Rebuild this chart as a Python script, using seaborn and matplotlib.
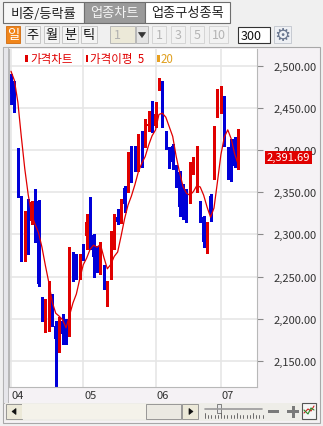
import numpy as np
import pandas as pd
import seaborn as sns
import matplotlib
matplotlib.use("Agg")
import matplotlib.pyplot as plt
from matplotlib.patches import Rectangle, Polygon
from matplotlib.transforms import blended_transform_factory

W, H = 323, 427

# daily candles, April -> early July
opens = [2486.9, 2481.0, 2383.6, 2342.0, 2294.5, 2336.0, 2315.9, 2351.6, 2339.7, 2219.7,
         2185.3, 2220.9, 2226.9, 2191.2, 2161.5, 2197.2, 2196.0, 2190.0, 2273.2, 2270.8,
         2258.9, 2276.7, 2298.1, 2338.5, 2299.3, 2282.7, 2270.8, 2262.5, 2219.7, 2253.0,
         2296.9, 2320.7, 2314.7, 2355.1, 2351.6, 2377.7, 2391.9, 2383.6, 2419.2, 2407.4,
         2428.7, 2446.6, 2428.7, 2472.7, 2481.0, 2421.6, 2401.4, 2405.0, 2381.2, 2374.1,
         2357.5, 2351.6, 2338.5, 2377.7, 2351.6, 2321.9, 2320.7, 2279.1, 2345.6, 2368.2,
         2440.6, 2445.4, 2463.2, 2399.0, 2380.0, 2413.3, 2383.6]
highs = [2490.5, 2482.2, 2402.6, 2345.6, 2327.8, 2342.0, 2339.7, 2353.9, 2340.9, 2225.7,
         2223.3, 2244.7, 2229.2, 2197.2, 2201.9, 2205.5, 2199.5, 2285.0, 2279.1, 2276.7,
         2276.7, 2288.6, 2324.2, 2344.4, 2300.5, 2286.2, 2291.0, 2263.7, 2244.7, 2304.1,
         2324.2, 2330.2, 2342.0, 2357.5, 2397.9, 2405.0, 2405.0, 2419.2, 2422.8, 2437.1,
         2446.6, 2458.4, 2457.2, 2485.7, 2482.2, 2422.8, 2403.8, 2407.4, 2382.4, 2375.3,
         2359.9, 2353.9, 2386.0, 2391.9, 2405.0, 2339.7, 2321.9, 2314.7, 2348.0, 2428.7,
         2472.7, 2476.2, 2464.4, 2403.8, 2413.3, 2415.7, 2425.2]
lows = [2454.9, 2445.4, 2344.4, 2268.4, 2268.4, 2276.7, 2312.4, 2291.0, 2238.7, 2197.2,
        2184.1, 2185.3, 2191.2, 2120.0, 2160.3, 2169.9, 2169.9, 2179.3, 2244.7, 2247.0,
        2247.0, 2269.6, 2282.7, 2282.7, 2249.4, 2255.4, 2253.0, 2235.2, 2215.0, 2247.0,
        2282.7, 2312.4, 2313.6, 2326.6, 2350.4, 2362.2, 2375.3, 2375.3, 2380.0, 2403.8,
        2422.8, 2421.6, 2427.6, 2471.5, 2427.6, 2401.4, 2378.9, 2377.7, 2356.3, 2321.9,
        2318.3, 2314.7, 2337.3, 2371.7, 2350.4, 2314.7, 2285.0, 2277.9, 2315.9, 2365.8,
        2439.4, 2444.2, 2405.0, 2365.8, 2363.4, 2380.0, 2377.7]
closes = [2466.7, 2457.2, 2375.3, 2291.0, 2300.5, 2312.0, 2338.5, 2318.3, 2241.1, 2213.8,
          2203.1, 2237.5, 2202.0, 2175.8, 2196.0, 2181.7, 2190.0, 2274.4, 2250.6, 2249.4,
          2273.2, 2272.0, 2314.7, 2302.9, 2273.2, 2261.3, 2288.6, 2237.5, 2235.2, 2299.3,
          2308.8, 2314.7, 2332.5, 2336.1, 2381.2, 2363.4, 2381.2, 2408.6, 2387.2, 2421.6,
          2431.1, 2437.1, 2443.0, 2479.8, 2428.7, 2407.4, 2380.0, 2386.0, 2362.2, 2332.5,
          2324.2, 2339.7, 2374.1, 2383.6, 2368.2, 2315.9, 2291.0, 2302.9, 2324.2, 2422.8,
          2470.3, 2452.5, 2407.4, 2368.2, 2369.4, 2381.2, 2391.69]
# closes of the days just before the window (feed the 5-day average)
prev_closes = [2512, 2505, 2495, 2490]

month_pos = [0, 21, 42, 61]
month_labels = ["04", "05", "06", "07"]
y_ticks = [2150, 2200, 2250, 2300, 2350, 2400, 2450, 2500]
tabs = ["비중/등락률", "업종차트", "업종구성종목"]
periods = ["일", "주", "월", "분", "틱"]
counts = ["1", "3", "5", "10"]

sns.set_style("white")
plt.rcParams['font.family'] = ['Noto Sans CJK KR', 'DejaVu Sans']

RED = '#e00000'
BLUE = '#0000d8'

df = pd.DataFrame({"open": opens, "high": highs, "low": lows, "close": closes})
df["x"] = np.arange(len(df))
allc = pd.Series(prev_closes + closes)
df["ma5"] = allc.rolling(5).mean().iloc[len(prev_closes):].values

fig = plt.figure(figsize=(W / 100, H / 100), dpi=100, facecolor='#f0f0f0')

# background / widgets layer in pixel coords
bg = fig.add_axes([0, 0, 1, 1], zorder=0)
bg.set_xlim(0, W)
bg.set_ylim(H, 0)
bg.axis('off')


def box(a, x0, y0, x1, y1, fc, ec='none', lw=1, **kw):
    a.add_patch(Rectangle((x0, y0), x1 - x0, y1 - y0, fc=fc, ec=ec, lw=lw, **kw))


# tabs
tab_box = [(3, 84), (84, 145), (145, 230)]
for (x0, x1), t, i in zip(tab_box, tabs, range(3)):
    active = i == 1
    box(bg, x0, 3, x1, 24, '#9a9a9a' if active else ('#f7f7f7' if i == 0 else '#ffffff'),
        ec='#6e6e6e', lw=0.8)
    bg.text((x0 + x1) / 2, 14, t, ha='center', va='center', fontsize=9.5,
            color='#f4f4f4' if active else '#222222')

# period buttons
pbox = [(6, 20), (25, 40), (44, 59), (62, 78), (81, 97)]
for (x0, x1), t, i in zip(pbox, periods, range(5)):
    if i == 0:
        box(bg, x0, 27, x1, 44, '#f0851a', ec='#d06a10', lw=0.6)
        bg.text((x0 + x1) / 2, 35.5, t, ha='center', va='center', fontsize=9.5, color='white')
    else:
        box(bg, x0, 27, x1, 44, '#f4f4f4', ec='#c0c0c0', lw=0.6)
        bg.text((x0 + x1) / 2, 35.5, t, ha='center', va='center', fontsize=9.5, color='#111111')

# disabled combo
box(bg, 110, 27, 135, 44, '#ece9d8', ec='#b0b0b0', lw=0.6)
bg.text(114, 35.5, "1", ha='left', va='center', fontsize=9, color='#b0b0b0')
box(bg, 136, 27, 148, 44, '#e4e4e4', ec='#b0b0b0', lw=0.6)
bg.add_patch(Polygon([(138.5, 33.5), (145.5, 33.5), (142, 38.5)], closed=True,
                     fc='#333333', ec='#333333', lw=0.5))
cbox = [(152, 166), (171, 185), (190, 204), (209, 228)]
for (x0, x1), t in zip(cbox, counts):
    box(bg, x0, 27, x1, 44, '#f2f2f2', ec='#d0d0d0', lw=0.6)
    bg.text((x0 + x1) / 2, 35.5, t, ha='center', va='center', fontsize=9, color='#b4b4b4')
box(bg, 238, 28, 270, 44, '#ffffff', ec='#333333', lw=0.8)
bg.text(241, 36, "300", ha='left', va='center', fontsize=9, color='#111111')
box(bg, 274, 27, 291, 44, '#eef0f4', ec='#c0c4cc', lw=0.6)
bg.text(282.5, 36, "⚙", ha='center', va='center', fontsize=13, color='#6b7890',
        family='DejaVu Sans')

# chart container
box(bg, 3, 48, 320, 424, '#f5f2f5', ec='#a8a8a8', lw=0.8)
box(bg, 3, 48, 8, 404, '#e6e6ea', ec='#b0b0b0', lw=0.6)

# bottom scroll row
box(bg, 5, 404, 318, 422, '#eeede8')
box(bg, 6, 405, 22, 420, '#ece9d8', ec='#8a8a8a', lw=0.6)
bg.add_patch(Polygon([(16, 409.5), (16, 415.5), (12, 412.5)], closed=True,
                     fc='#111111', ec='#111111', lw=0.5))
box(bg, 22, 405, 146, 420, '#f4f2ea', ec='none', hatch='.....')
box(bg, 146, 405, 181, 420, '#ebe9e2', ec='#8a8a8a', lw=0.6)
box(bg, 182, 405, 198, 420, '#ece9d8', ec='#8a8a8a', lw=0.6)
bg.add_patch(Polygon([(189, 409.5), (189, 415.5), (193, 412.5)], closed=True,
                     fc='#111111', ec='#111111', lw=0.5))
bg.plot([205, 262], [409.5, 409.5], color='#9a9a9a', lw=1.2)
box(bg, 217, 405, 221, 414, '#e8e8e8', ec='#707070', lw=0.6)
for k, xx in enumerate(np.arange(205, 264, 3.2)):
    bg.plot([xx, xx], [419, 416 if k % 5 else 414], color='#555555', lw=0.6)
box(bg, 268, 411, 279, 414, '#7a7a7a')
box(bg, 287, 411, 299, 414, '#7a7a7a')
box(bg, 291.5, 406.5, 294.5, 418.5, '#7a7a7a')
box(bg, 302, 404, 316, 420, '#f6f6f6', ec='#555555', lw=0.8)
bg.plot([304, 308, 311, 314], [414, 410, 412, 407], color='#d02020', lw=0.8)
bg.plot([304, 308, 311, 314], [411, 415, 409, 411], color='#2a8a2a', lw=0.8)

# price chart
ax = fig.add_axes([9 / W, 1 - 388 / H, 248 / W, 338 / H], zorder=2)
ax.set_facecolor('white')
ax.set_xlim(-0.58, 71.5)
ax.set_ylim(2118.8, 2520.2)

for v in y_ticks:
    ax.axhline(v, color='#e6e6e6', lw=1.2, zorder=0)
for p in month_pos:
    ax.axvline(p, color='#e6e6e6', lw=1.2, zorder=0)

up = df["close"] >= df["open"]
cols = np.where(up, RED, BLUE)
ax.vlines(df["x"], df["low"], df["high"], colors=cols, lw=0.9, zorder=2, antialiased=False)
body_lo = np.minimum(df["open"], df["close"])
body_h = np.maximum(np.abs(df["close"] - df["open"]), 1.3)
ax.bar(df["x"], body_h, bottom=body_lo, width=0.72, color=cols, lw=0, zorder=3,
       antialiased=False)

sns.lineplot(data=df, x="x", y="ma5", ax=ax, color=RED, lw=0.9, zorder=4)
ax.set_xlabel("")
ax.set_ylabel("")

for s in ["top"]:
    ax.spines[s].set_visible(False)
for s in ["left", "bottom", "right"]:
    ax.spines[s].set_color('#b8b8b8')
    ax.spines[s].set_linewidth(0.8)

ax.yaxis.tick_right()
ax.set_yticks(y_ticks)
ax.set_yticklabels([f"{v:,.2f}" for v in y_ticks])
ax.tick_params(axis='y', length=4, width=0.8, color='#8a8a8a', pad=8,
               labelsize=8, labelcolor='#333333')
ax.set_xticks(month_pos)
ax.set_xticklabels([""] * len(month_pos))
ax.tick_params(axis='x', length=9, width=0.8, color='#8a8a8a', direction='out')
tr = blended_transform_factory(ax.transData, ax.transAxes)
for p, lab in zip(month_pos, month_labels):
    ax.text(p + 0.25, -0.01, lab, transform=tr, ha='left', va='top', fontsize=8,
            color='#333333')

# last price tag
tr2 = blended_transform_factory(ax.transAxes, ax.transData)
ax.text(1.038, closes[-1], f"{closes[-1]:,.2f}", transform=tr2, ha='left', va='center',
        fontsize=8, color='white', zorder=10,
        bbox=dict(boxstyle='square,pad=0.15', fc=RED, ec='none'))

# legend
top = fig.add_axes([0, 0, 1, 1], zorder=5)
top.set_xlim(0, W)
top.set_ylim(H, 0)
top.axis('off')
box(top, 25, 56, 27.5, 63, RED)
top.text(30, 59.5, "가격차트", ha='left', va='center', fontsize=8.3, color=RED)
box(top, 85.5, 56, 88, 63, RED)
top.text(90, 59.5, "가격이평  5", ha='left', va='center', fontsize=8.3, color=RED)
box(top, 157, 56, 159.5, 63, '#e8a020')
top.text(161, 59.5, "20", ha='left', va='center', fontsize=8.3, color='#e0a020')

fig.savefig("out.png", dpi=100, facecolor=fig.get_facecolor())
